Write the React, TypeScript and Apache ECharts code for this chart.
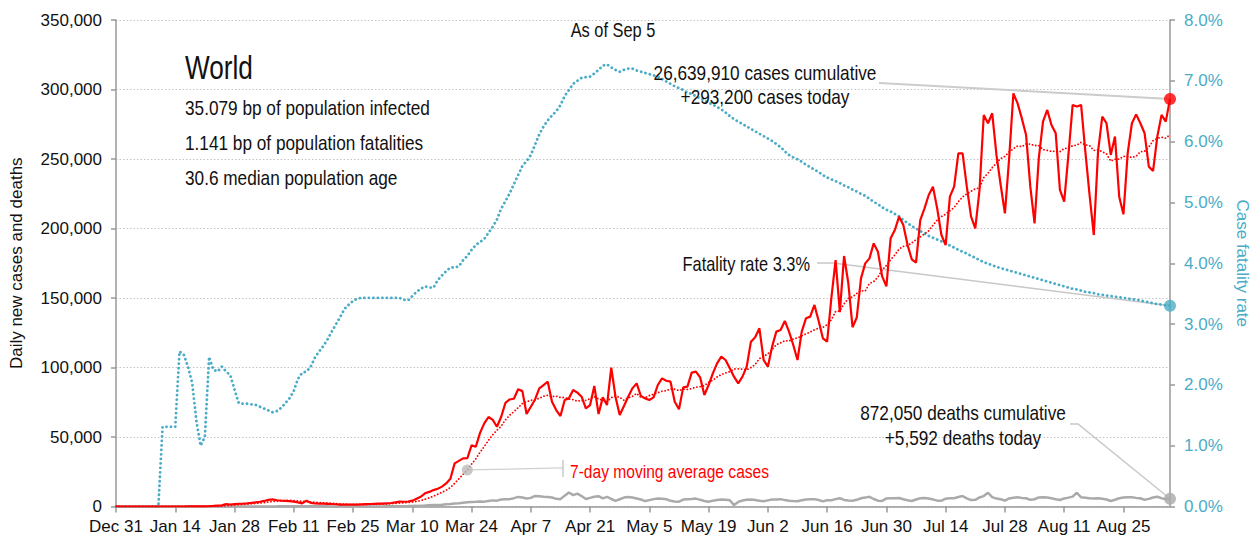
import React, { useEffect, useRef } from "react";
import * as echarts from "echarts";

const MONTHS = ["Jan", "Feb", "Mar", "Apr", "May", "Jun", "Jul", "Aug", "Sep", "Oct", "Nov", "Dec"];
const DAY_COUNT = 250;
const LABEL_STEP = 14;
const categories: string[] = [];
for (let i = 0; i < DAY_COUNT; i++) {
  const d = new Date(Date.UTC(2019, 11, 31 + i));
  categories.push(`${MONTHS[d.getUTCMonth()]} ${d.getUTCDate()}`);
}

// Daily new cases (Dec 31 .. Sep 5)
const cases = [
  27, 0, 0, 17, 0, 15, 0, 0, 0, 0,
  0, 0, 0, 1, 1, 4, 17, 136, 19, 151,
  140, 100, 260, 440, 660, 790, 1750, 1460, 1740, 1980,
  2100, 2300, 2600, 3000, 3400, 4000, 4800, 5100, 4500, 4200,
  4000, 3800, 3500, 3000, 2300, 4200, 2600, 2300, 2100, 2000,
  1900, 1800, 1600, 1400, 1300, 1300, 1400, 1400, 1600, 1700,
  1800, 1900, 2000, 2100, 2300, 2500, 3000, 3500, 3400, 3600,
  4200, 5500, 7000, 9500, 10500, 11800, 12800, 14300, 16600, 20000,
  31000, 32800, 34600, 34700, 44000, 43000, 53000, 59800, 64400, 62300,
  57400, 64600, 74500, 77000, 77500, 84300, 83000, 66600, 71800, 77000,
  85000, 87400, 89800, 75400, 69400, 65100, 76600, 77800, 83800, 81900,
  79000, 70600, 73000, 86700, 66500, 78500, 73000, 99900, 79000, 65800,
  72300, 79000, 85000, 88600, 79500, 77800, 76600, 78500, 87400, 92200,
  90500, 89800, 75400, 69900, 85700, 86200, 96300, 97000, 92900, 80200,
  87400, 95800, 103000, 107800, 105400, 99400, 93400, 88600, 93400, 100600,
  118600, 121700, 128200, 105400, 100600, 115000, 125800, 127000, 133500, 125800,
  116200, 105400, 125800, 135400, 136600, 145000, 133500, 121000, 118600, 150000,
  177300, 139800, 180200, 160800, 129000, 136000, 164100, 174900, 178500, 189300,
  183300, 165600, 158400, 192900, 198900, 208500, 202500, 188100, 177800, 175400,
  206100, 214500, 224100, 230100, 214500, 195300, 188100, 222900, 230100, 254000,
  254000, 230100, 208500, 200100, 227700, 281700, 275700, 282900, 252900, 231300,
  210900, 250500, 297200, 290000, 279200, 267200, 230100, 203700, 250500, 276900,
  285300, 274500, 268500, 227700, 219300, 252900, 288900, 287700, 288900, 255300,
  224100, 195300, 255300, 280500, 275700, 252900, 266100, 222900, 210200, 254000,
  275700, 282100, 275700, 268500, 244500, 241400, 266100, 281700, 276900, 293200,
];

// Daily new deaths
const deaths = [
  0, 0, 0, 0, 0, 0, 0, 0, 0, 0,
  0, 1, 0, 0, 0, 0, 0, 0, 1, 3,
  11, 8, 16, 15, 24, 26, 26, 38, 43, 46,
  45, 57, 64, 66, 73, 73, 86, 89, 97, 108,
  97, 108, 120, 143, 150, 143, 142, 106, 98, 136,
  150, 71, 64, 98, 57, 65, 53, 44, 58, 77,
  65, 64, 52, 76, 101, 107, 101, 209, 229, 271,
  400, 450, 600, 700, 900, 1000, 1100, 1300, 1600, 1800,
  2100, 2300, 2700, 3100, 3300, 3400, 3600, 3500, 4000, 4400,
  4200, 5000, 5200, 5300, 6000, 6900, 6500, 5800, 6200, 7600,
  7400, 7000, 6800, 6500, 5500, 5300, 7800, 10100, 8200, 9300,
  7500, 5400, 6200, 7000, 7400, 5800, 6900, 5400, 4000, 5200,
  6400, 6900, 6500, 5800, 5000, 3900, 4600, 5300, 5700, 5500,
  5300, 4100, 3600, 3500, 5000, 5300, 5400, 5700, 4800, 4000,
  3400, 4200, 4600, 5000, 4900, 4500, 1000, 3300, 4300, 4800,
  5000, 4600, 4100, 3800, 4400, 5000, 5100, 5300, 4600, 4200,
  3900, 3800, 4500, 5000, 5200, 5300, 4700, 3700, 4500, 4500,
  5300, 6000, 4700, 4400, 4200, 4800, 5900, 6400, 7000, 5400,
  4200, 4000, 5800, 5900, 6000, 6100, 5200, 4500, 4000, 5000,
  5900, 6100, 5700, 5100, 4200, 4200, 5600, 5900, 5900, 6800,
  7500, 5900, 4600, 4800, 6500, 7500, 9900, 6700, 5700, 5200,
  4300, 5800, 6300, 6600, 6200, 5900, 4800, 5200, 6500, 6600,
  6400, 5900, 5200, 4700, 5800, 6400, 7100, 9900, 6600, 6300,
  6000, 5800, 5900, 5500, 5000, 4000, 4900, 5900, 6400, 6600,
  6600, 6200, 5900, 4800, 5500, 6500, 7000, 6000, 5300, 5592,
];

// Case fatality rate, %
const cfr = [
  0, 0, 0, 0, 0, 0, 0, 0, 0, 0,
  0, 1.31, 1.31, 1.31, 1.31, 2.55, 2.5, 2.3, 2.03, 1.4,
  1.0, 1.15, 2.46, 2.25, 2.22, 2.3, 2.22, 2.16, 1.92, 1.7,
  1.69, 1.69, 1.68, 1.67, 1.64, 1.61, 1.58, 1.55, 1.57, 1.62,
  1.7, 1.78, 1.9, 2.1, 2.2, 2.22, 2.3, 2.45, 2.55, 2.64,
  2.75, 2.88, 3.0, 3.12, 3.25, 3.32, 3.38, 3.42, 3.43, 3.43,
  3.43, 3.43, 3.43, 3.43, 3.43, 3.43, 3.43, 3.43, 3.4, 3.39,
  3.46, 3.53, 3.58, 3.62, 3.6, 3.6, 3.72, 3.8, 3.87, 3.93,
  3.93, 3.95, 4.05, 4.12, 4.22, 4.3, 4.35, 4.4, 4.5, 4.6,
  4.72, 4.9, 5.02, 5.15, 5.3, 5.45, 5.6, 5.68, 5.78, 5.95,
  6.12, 6.25, 6.35, 6.43, 6.5, 6.6, 6.75, 6.85, 6.95, 7.0,
  7.05, 7.06, 7.07, 7.12, 7.18, 7.25, 7.27, 7.22, 7.18, 7.15,
  7.18, 7.2, 7.2, 7.17, 7.15, 7.13, 7.11, 7.09, 7.07, 7.03,
  6.99, 6.95, 6.91, 6.88, 6.85, 6.81, 6.78, 6.75, 6.71, 6.68,
  6.64, 6.61, 6.57, 6.53, 6.48, 6.42, 6.37, 6.33, 6.29, 6.25,
  6.21, 6.17, 6.13, 6.09, 6.05, 6.01, 5.96, 5.91, 5.84, 5.78,
  5.74, 5.71, 5.67, 5.62, 5.58, 5.54, 5.5, 5.45, 5.41, 5.38,
  5.35, 5.32, 5.28, 5.25, 5.21, 5.18, 5.14, 5.11, 5.06, 5.01,
  4.97, 4.92, 4.88, 4.85, 4.81, 4.77, 4.71, 4.66, 4.61, 4.57,
  4.53, 4.49, 4.45, 4.42, 4.39, 4.36, 4.33, 4.29, 4.26, 4.22,
  4.19, 4.16, 4.12, 4.09, 4.05, 4.02, 3.99, 3.97, 3.94, 3.92,
  3.9, 3.88, 3.86, 3.84, 3.82, 3.8, 3.78, 3.76, 3.74, 3.72,
  3.7, 3.68, 3.66, 3.64, 3.62, 3.6, 3.58, 3.57, 3.55, 3.53,
  3.52, 3.51, 3.49, 3.48, 3.47, 3.46, 3.45, 3.44, 3.43, 3.42,
  3.41, 3.4, 3.39, 3.37, 3.36, 3.34, 3.33, 3.32, 3.31, 3.3,
];

const leftTicks = [0, 50000, 100000, 150000, 200000, 250000, 300000, 350000];
const rightTicks = [0, 1, 2, 3, 4, 5, 6, 7, 8];

const infoLines = [
  "35.079 bp of population infected",
  "1.141 bp of population fatalities",
  "30.6 median population age",
];
const casesNote = ["26,639,910 cases cumulative", "+293,200 cases today"];
const deathsNote = ["872,050 deaths cumulative", "+5,592 deaths today"];
const fatalityNote = "Fatality rate 3.3%";
const maNote = "7-day moving average cases";
const MA_NOTE_INDEX = 83;

const FONT = "'Liberation Sans', Arial, sans-serif";
const TEAL = "#4bacc6";
const RED = "#ff0000";
const GRAY = "#aaaaaa";
const AXIS = "#999999";
const CONNECT = "#c8c8c8";
const AXIS_FONT = 17;

function trailingAverage(arr: number[], n: number): number[] {
  return arr.map((_, i) => {
    const s = Math.max(0, i - n + 1);
    let sum = 0;
    for (let j = s; j <= i; j++) sum += arr[j];
    return Math.round(sum / (i - s + 1));
  });
}

export default function App() {
  const ref = useRef<HTMLDivElement>(null);
  useEffect(() => {
    if (!ref.current) return;
    const chart = echarts.init(ref.current, null, { renderer: "svg" });
    const ma = trailingAverage(cases, 7);
    const last = cases.length - 1;
    const everyStep = (i: number) => i % LABEL_STEP === 0;
    chart.setOption({
      animation: false,
      textStyle: { fontFamily: FONT },
      grid: { left: 116, right: 87, top: 20, bottom: 39.5, containLabel: false, outerBoundsMode: "none" },
      xAxis: {
        type: "category",
        data: categories,
        boundaryGap: false,
        axisLine: { lineStyle: { color: AXIS, width: 1.5 } },
        axisTick: { interval: everyStep, length: 6, lineStyle: { color: AXIS, width: 1.5 } },
        axisLabel: {
          interval: everyStep,
          color: "#111",
          fontSize: AXIS_FONT,
          margin: 11,
          fontFamily: FONT,
          showMinLabel: true,
          hideOverlap: false,
        },
        splitLine: { show: false },
      },
      yAxis: [
        {
          type: "value",
          min: leftTicks[0],
          max: leftTicks[leftTicks.length - 1],
          interval: leftTicks[1] - leftTicks[0],
          position: "left",
          name: "Daily new cases and deaths",
          nameLocation: "middle",
          nameGap: 91,
          nameTextStyle: { fontSize: AXIS_FONT, color: "#111", fontFamily: FONT },
          axisLine: { show: true, lineStyle: { color: AXIS, width: 1.5 } },
          axisTick: { show: true, length: 5, lineStyle: { color: AXIS, width: 1.5 } },
          axisLabel: {
            formatter: (v: number) => v.toLocaleString("en-US"),
            color: "#111",
            fontSize: AXIS_FONT,
            margin: 14,
            fontFamily: FONT,
          },
          splitLine: { show: true, lineStyle: { color: "#c4c4c4", width: 1, type: [1.5, 2] } },
        },
        {
          type: "value",
          min: rightTicks[0],
          max: rightTicks[rightTicks.length - 1],
          interval: 1,
          position: "right",
          name: "Case fatality rate",
          nameLocation: "middle",
          nameRotate: -90,
          nameGap: 62,
          nameTextStyle: { fontSize: AXIS_FONT, color: TEAL, fontFamily: FONT },
          axisLine: { show: true, lineStyle: { color: AXIS, width: 1.5 } },
          axisTick: { show: true, length: 5, lineStyle: { color: AXIS, width: 1.5 } },
          axisLabel: {
            formatter: (v: number) => v.toFixed(1) + "%",
            color: TEAL,
            fontSize: AXIS_FONT,
            margin: 14,
            fontFamily: FONT,
          },
          splitLine: { show: false },
        },
      ],
      series: [
        {
          name: "Case fatality rate",
          type: "line",
          yAxisIndex: 1,
          data: cfr,
          showSymbol: false,
          lineStyle: { color: TEAL, width: 2.8, type: [0.1, 4.4], cap: "round" },
          z: 2,
        },
        {
          name: "Deaths",
          type: "line",
          data: deaths,
          showSymbol: false,
          lineStyle: { color: GRAY, width: 2.5 },
          z: 3,
        },
        {
          name: "7-day MA",
          type: "line",
          data: ma,
          showSymbol: false,
          lineStyle: { color: RED, width: 1.8, type: [0.1, 3.2], cap: "round" },
          z: 4,
        },
        {
          name: "Cases",
          type: "line",
          data: cases,
          showSymbol: false,
          lineStyle: { color: RED, width: 2.2 },
          z: 5,
        },
        {
          type: "scatter",
          data: [[last, cases[last]]],
          symbolSize: 12,
          itemStyle: { color: RED },
          z: 10,
        },
        {
          type: "scatter",
          data: [[last, deaths[last]]],
          symbolSize: 12,
          itemStyle: { color: GRAY },
          z: 10,
        },
        {
          type: "scatter",
          yAxisIndex: 1,
          data: [[last, cfr[last]]],
          symbolSize: 12,
          itemStyle: { color: TEAL },
          z: 10,
        },
        {
          type: "scatter",
          data: [[MA_NOTE_INDEX, ma[MA_NOTE_INDEX]]],
          symbolSize: 11,
          itemStyle: { color: "#bbbbbb" },
          z: 10,
        },
      ],
    });

    const pc = chart.convertToPixel({ xAxisIndex: 0, yAxisIndex: 0 }, [last, cases[last]]) as number[];
    const pd = chart.convertToPixel({ xAxisIndex: 0, yAxisIndex: 0 }, [last, deaths[last]]) as number[];
    const pf = chart.convertToPixel({ xAxisIndex: 0, yAxisIndex: 1 }, [last, cfr[last]]) as number[];
    const pm = chart.convertToPixel({ xAxisIndex: 0, yAxisIndex: 0 }, [MA_NOTE_INDEX, ma[MA_NOTE_INDEX]]) as number[];

    const txt = (text: string, x: number, y: number, opts: any = {}) => ({
      type: "text",
      x,
      y,
      scaleX: opts.scaleX || 0.82,
      z: 20,
      style: {
        text,
        fill: opts.fill || "#111",
        fontSize: opts.fontSize || 21,
        fontFamily: FONT,
        fontWeight: opts.fontWeight || "normal",
        align: opts.align || "left",
        verticalAlign: "middle",
      },
    });
    const line = (points: number[][], color = CONNECT, width = 1.5) => ({
      type: "polyline",
      z: 1,
      shape: { points },
      style: { stroke: color, lineWidth: width, fill: null },
    });

    chart.setOption({
      graphic: [
        txt("World", 185, 67, { fontSize: 34, scaleX: 0.77 }),
        txt(infoLines[0], 185, 108),
        txt(infoLines[1], 185, 143),
        txt(infoLines[2], 185, 178),
        txt("As of Sep 5", 613, 30, { align: "center", fontSize: 20 }),
        txt(casesNote[0], 765, 73, { align: "center" }),
        txt(casesNote[1], 765, 97, { align: "center" }),
        line([[879, 83], [pc[0], pc[1]]], "#cccccc", 2),
        txt(fatalityNote, 810, 264, { align: "right", fontSize: 20 }),
        line([[817, 263], [833, 263], [pf[0], pf[1]]]),
        txt(deathsNote[0], 963, 413, { align: "center" }),
        txt(deathsNote[1], 963, 438, { align: "center" }),
        line([[1070, 424], [1078, 424], [pd[0], pd[1]]]),
        line([[pm[0], pm[1]], [563, pm[1] - 2]], "#d0d0d0", 1.2),
        line([[563, pm[1] - 10], [563, pm[1] + 7]], "#bbbbbb", 1.2),
        txt(maNote, 570, pm[1] + 1, { fill: RED, fontSize: 19 }),
      ],
    });

    return () => chart.dispose();
  }, []);
  return (
    <div
      ref={ref}
      style={{ position: "fixed", left: 0, top: 0, width: 1257, height: 546, background: "#fff" }}
    />
  );
}
